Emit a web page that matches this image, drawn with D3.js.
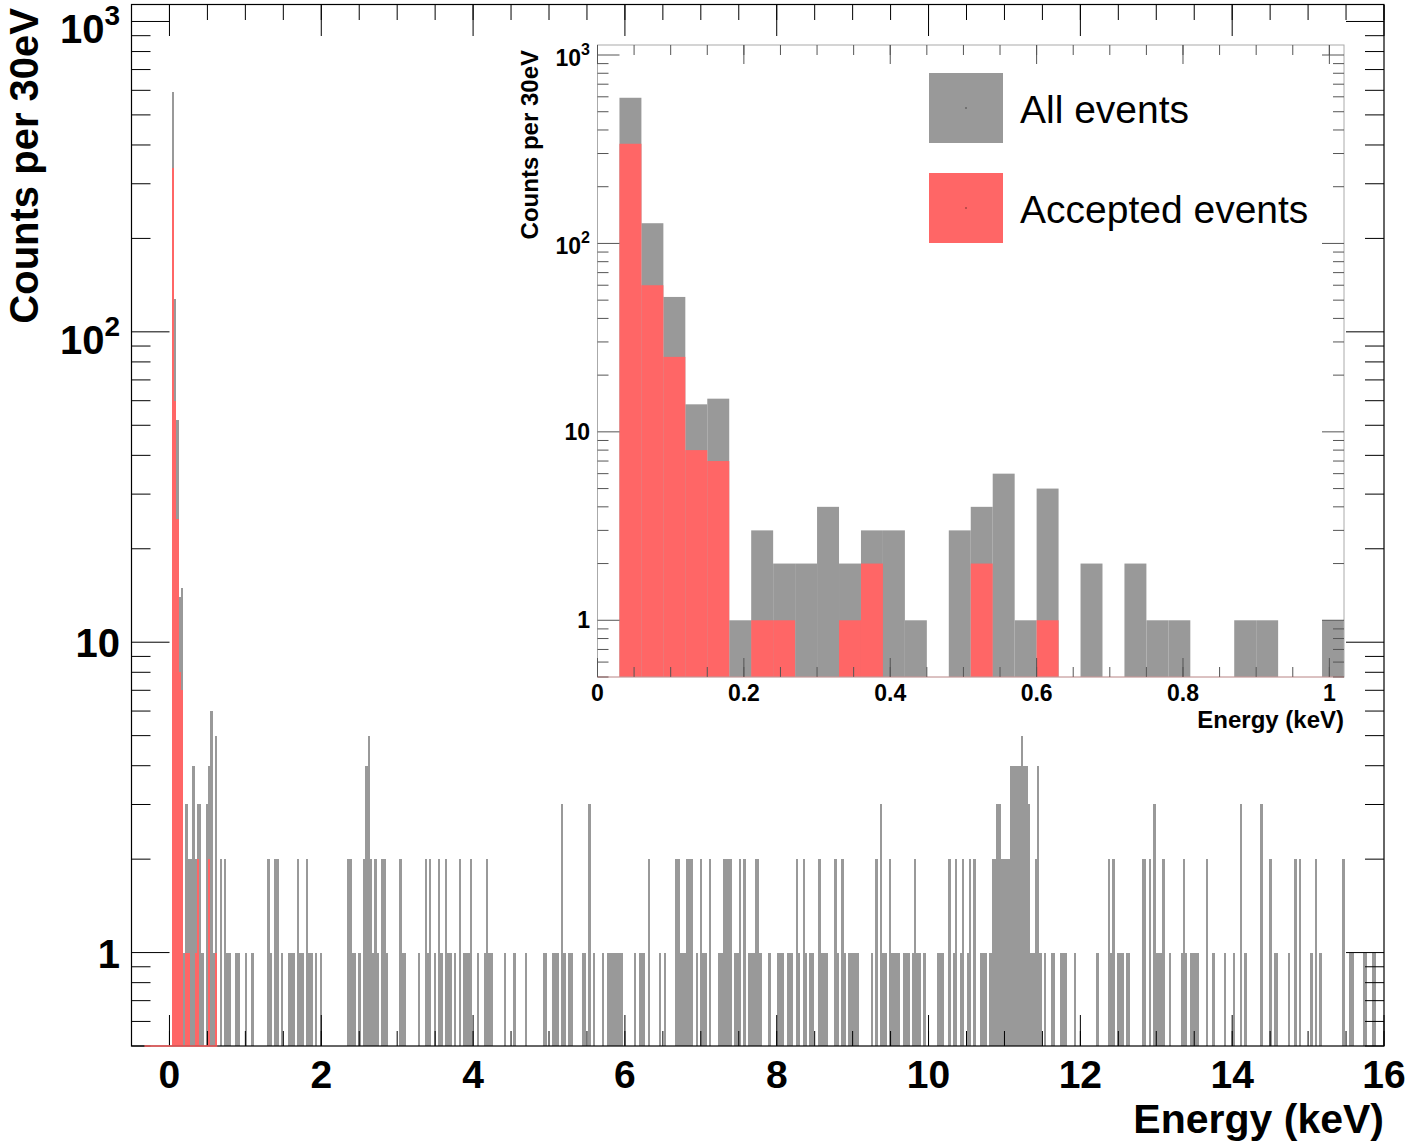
<!DOCTYPE html>
<html>
<head>
<meta charset="utf-8">
<script src="https://cdn.jsdelivr.net/npm/d3@7"></script>
<style>
body { margin: 0; background: #fff; }
svg { display: block; font-family: "Liberation Sans", Arial, Helvetica, sans-serif; }
</style>
</head>
<body>
<div class="container"></div>
<script>
var BIN_WIDTH = 0.03;

// counts per 30 eV bin, all events, bins start at 0 keV
var allCounts = [
  0, 593, 128, 52, 14, 15, 1, 3, 2, 2, 4, 2, 3, 3, 1, 0, 3, 4, 6, 1,
  5, 0, 2, 0, 2, 1, 1, 0, 0, 1, 1, 0, 0, 1, 0, 0, 1, 0, 0, 0,
  0, 0, 0, 2, 1, 0, 2, 2, 0, 1, 0, 0, 1, 1, 1, 0, 2, 1, 1, 0,
  2, 1, 1, 0, 1, 0, 1, 0, 0, 0, 0, 0, 0, 0, 0, 0, 0, 0, 2, 2,
  1, 1, 0, 1, 0, 2, 4, 5, 2, 1, 2, 1, 0, 2, 2, 1, 0, 0, 0, 0,
  0, 2, 1, 1, 0, 0, 0, 0, 0, 1, 0, 0, 2, 1, 2, 0, 1, 0, 2, 1,
  0, 2, 1, 1, 0, 1, 0, 2, 0, 1, 1, 1, 2, 0, 0, 1, 0, 0, 1, 2,
  1, 1, 0, 0, 0, 0, 0, 1, 0, 0, 0, 1, 0, 0, 0, 0, 1, 0, 0, 0,
  0, 0, 0, 0, 1, 1, 0, 0, 1, 1, 1, 0, 3, 1, 0, 1, 1, 0, 0, 0,
  0, 1, 1, 0, 3, 0, 1, 0, 0, 0, 1, 0, 1, 1, 1, 1, 1, 1, 1, 0,
  0, 0, 0, 0, 1, 0, 1, 1, 1, 0, 2, 0, 0, 0, 0, 1, 0, 1, 0, 0,
  0, 0, 2, 2, 1, 1, 1, 2, 2, 2, 0, 1, 0, 2, 1, 1, 0, 2, 0, 0,
  0, 1, 1, 2, 2, 2, 2, 0, 1, 1, 2, 0, 2, 0, 1, 1, 1, 2, 2, 1,
  0, 0, 0, 1, 0, 0, 0, 1, 1, 1, 0, 1, 1, 1, 0, 2, 1, 0, 2, 1,
  0, 1, 1, 0, 0, 2, 1, 1, 1, 0, 0, 0, 2, 1, 0, 2, 1, 0, 1, 1,
  1, 1, 1, 0, 0, 0, 0, 0, 1, 0, 2, 0, 3, 1, 1, 0, 2, 1, 1, 1,
  1, 0, 1, 1, 1, 0, 1, 2, 1, 1, 0, 1, 0, 0, 0, 0, 0, 1, 1, 1,
  0, 0, 2, 0, 1, 2, 0, 1, 2, 0, 1, 2, 0, 2, 0, 0, 1, 1, 1, 0,
  1, 2, 2, 3, 3, 2, 2, 2, 2, 4, 4, 4, 4, 4, 5, 4, 4, 3, 1, 1,
  2, 4, 1, 0, 1, 0, 0, 1, 1, 0, 0, 1, 1, 1, 0, 0, 0, 1, 0, 0,
  0, 0, 0, 0, 0, 0, 0, 1, 0, 0, 0, 0, 2, 1, 2, 0, 1, 1, 1, 0,
  1, 1, 0, 0, 0, 0, 0, 2, 2, 0, 2, 0, 3, 1, 1, 1, 2, 0, 0, 1,
  0, 0, 0, 0, 1, 2, 1, 0, 1, 1, 1, 1, 0, 0, 0, 2, 0, 0, 1, 0,
  0, 0, 0, 1, 0, 0, 0, 1, 0, 0, 3, 0, 1, 0, 0, 0, 0, 0, 0, 3,
  0, 0, 0, 2, 0, 1, 1, 0, 0, 0, 0, 1, 0, 0, 2, 0, 2, 0, 0, 0,
  0, 1, 0, 2, 0, 1, 0, 0, 0, 0, 0, 0, 0, 0, 0, 2, 0, 0, 1, 1,
  0, 0, 0, 0, 1, 1, 0, 0, 1, 1, 0, 0, 0
];

// accepted events, same bins (all later bins empty)
var acceptedCounts = [
  0, 338, 60, 25, 8, 7, 0, 1, 1, 0, 0, 1, 2, 0, 0, 0, 0, 2, 0, 0,
  1, 0, 0, 0, 0, 0, 0, 0, 0, 0, 0, 0, 0, 0
];

var mainXTicks = [0, 2, 4, 6, 8, 10, 12, 14, 16];
var insetXTicks = [0, 0.2, 0.4, 0.6, 0.8, 1];
var insetXLabels = ["0", "0.2", "0.4", "0.6", "0.8", "1"];
var yTickValues = [1, 10, 100, 1000];
var yTickBase = ["1", "10", "10", "10"];
var yTickExp = ["", "", "2", "3"];
var legendLabels = ["All events", "Accepted events"];

var GRAY = "#999999", RED = "#ff6666";
var Y_DOMAIN = [0.5, 1130];

var svg, x, y, ix, iy;

var createContainer = function(){
	svg = d3.select(".container").append("svg")
		.attr("width", 1405)
		.attr("height", 1141);
}

var minorLogTicks = function(domain){
	var out = [];
	[0.1, 1, 10, 100, 1000].forEach(function(d){
		for (var k = 2; k <= 9; k++) {
			var v = d * k;
			if (v >= domain[0] && v <= domain[1]) out.push(v);
		}
	});
	return out;
}

var drawHist = function(g, counts, xs, ys, color, crisp){
	var bins = counts.map(function(c, i){ return {i: i, c: c}; })
		.filter(function(b){ return b.c > 0; });
	g.selectAll(null).data(bins).enter().append("rect")
		.attr("x", function(b){ return xs(b.i * BIN_WIDTH); })
		.attr("width", function(b){ return xs((b.i + 1) * BIN_WIDTH) - xs(b.i * BIN_WIDTH); })
		.attr("y", function(b){ return ys(b.c); })
		.attr("height", function(b){ return ys.range()[0] - ys(b.c); })
		.attr("fill", color)
		.attr("shape-rendering", crisp ? "crispEdges" : "auto");
}

var drawTicks = function(g, xs, ys, xMajor, xMinor, xLen, yLen, color){
	var x0 = xs.range()[0], x1 = xs.range()[1];
	var y0 = ys.range()[0], y1 = ys.range()[1];
	var lines = [];
	xMinor.forEach(function(v){ lines.push([xs(v), y0, xs(v), y0 - xLen[1]], [xs(v), y1, xs(v), y1 + xLen[1]]); });
	xMajor.forEach(function(v){ lines.push([xs(v), y0, xs(v), y0 - xLen[0]], [xs(v), y1, xs(v), y1 + xLen[0]]); });
	minorLogTicks(ys.domain()).forEach(function(v){ lines.push([x0, ys(v), x0 + yLen[1], ys(v)], [x1, ys(v), x1 - yLen[1], ys(v)]); });
	yTickValues.forEach(function(v){ lines.push([x0, ys(v), x0 + yLen[0], ys(v)], [x1, ys(v), x1 - yLen[0], ys(v)]); });
	g.selectAll(null).data(lines).enter().append("line")
		.attr("x1", function(d){ return d[0]; })
		.attr("y1", function(d){ return d[1]; })
		.attr("x2", function(d){ return d[2]; })
		.attr("y2", function(d){ return d[3]; })
		.attr("stroke", color)
		.attr("stroke-width", 1);
}

var drawYLabels = function(g, ys, xRight, size, supSize, plainDy, expDy, supRise){
	yTickValues.forEach(function(v, i){
		var t = g.append("text")
			.attr("x", xRight)
			.attr("y", ys(v) + (yTickExp[i] ? expDy : plainDy))
			.attr("text-anchor", "end")
			.attr("font-weight", "bold")
			.attr("font-size", size)
			.text(yTickBase[i]);
		if (yTickExp[i]) {
			t.append("tspan")
				.attr("dy", -supRise)
				.attr("font-size", supSize)
				.text(yTickExp[i]);
		}
	});
}

var drawMain = function(){
	x = d3.scaleLinear().domain([-0.5, 16]).range([131.5, 1384]);
	y = d3.scaleLog().domain(Y_DOMAIN).range([1046, 5]);
	var g = svg.append("g");

	drawHist(g, allCounts, x, y, GRAY, true);
	drawHist(g, acceptedCounts, x, y, RED, true);

	g.append("rect")
		.attr("x", 131.5).attr("y", 4.5)
		.attr("width", 1384 - 131.5).attr("height", 1046 - 4.5)
		.attr("fill", "none").attr("stroke", "#000").attr("stroke-width", 1.2);

	drawTicks(g, x, y, mainXTicks, d3.range(-0.5, 16.01, 0.5), [31, 15], [38, 19], "#000");

	g.append("line")
		.attr("x1", x(-0.33)).attr("x2", x(21 * BIN_WIDTH))
		.attr("y1", 1046).attr("y2", 1046)
		.attr("stroke", RED).attr("stroke-width", 1.5);

	g.selectAll(null).data(mainXTicks).enter().append("text")
		.attr("x", function(d){ return x(d); })
		.attr("y", 1088)
		.attr("text-anchor", "middle")
		.attr("font-weight", "bold")
		.attr("font-size", 39)
		.text(function(d){ return d; });

	drawYLabels(g, y, 120, 40, 28, 15, 22, 18);

	g.append("text")
		.attr("x", 1384).attr("y", 1133)
		.attr("text-anchor", "end")
		.attr("font-weight", "bold")
		.attr("font-size", 41)
		.text("Energy (keV)");

	g.append("text")
		.attr("transform", "translate(38,8) rotate(-90)")
		.attr("text-anchor", "end")
		.attr("font-weight", "bold")
		.attr("font-size", 40)
		.text("Counts per 30eV");
}

var drawInset = function(){
	ix = d3.scaleLinear().domain([0, 1.02]).range([597.5, 1344]);
	iy = d3.scaleLog().domain(Y_DOMAIN).range([677, 45]);
	var g = svg.append("g");

	drawHist(g, allCounts.slice(0, 34), ix, iy, GRAY, false);
	drawHist(g, acceptedCounts.slice(0, 34), ix, iy, RED, false);

	g.append("rect")
		.attr("x", 597.5).attr("y", 45)
		.attr("width", 1344 - 597.5).attr("height", 677 - 45)
		.attr("fill", "none").attr("stroke", "#aaa").attr("stroke-width", 1);

	drawTicks(g, ix, iy, insetXTicks, d3.range(0, 1.02, 0.05), [19, 10], [22, 11], "#555");

	g.append("line")
		.attr("x1", 597.5).attr("x2", 1344)
		.attr("y1", 677).attr("y2", 677)
		.attr("stroke", RED).attr("stroke-opacity", 0.35);

	g.selectAll(null).data(insetXTicks).enter().append("text")
		.attr("x", function(d){ return ix(d); })
		.attr("y", 701)
		.attr("text-anchor", "middle")
		.attr("font-weight", "bold")
		.attr("font-size", 23)
		.text(function(d, i){ return insetXLabels[i]; });

	drawYLabels(g, iy, 590, 23, 16, 8, 11, 11);

	g.append("text")
		.attr("x", 1344).attr("y", 728)
		.attr("text-anchor", "end")
		.attr("font-weight", "bold")
		.attr("font-size", 24)
		.text("Energy (keV)");

	g.append("text")
		.attr("transform", "translate(538,50) rotate(-90)")
		.attr("text-anchor", "end")
		.attr("font-weight", "bold")
		.attr("font-size", 24)
		.text("Counts per 30eV");

	var colors = [GRAY, RED];
	legendLabels.forEach(function(label, i){
		var top = 73 + i * 100;
		g.append("rect")
			.attr("x", 929).attr("y", top)
			.attr("width", 74).attr("height", 70)
			.attr("fill", colors[i]);
		g.append("rect")
			.attr("x", 965.5).attr("y", top + 34.5)
			.attr("width", 1).attr("height", 1)
			.attr("fill", "#000");
		g.append("text")
			.attr("x", 1020).attr("y", top + 50)
			.attr("font-size", 39)
			.text(label);
	});
}

var loadChart = function(){
	createContainer();
	drawMain();
	drawInset();
}

window.onload = loadChart;
</script>
</body>
</html>
